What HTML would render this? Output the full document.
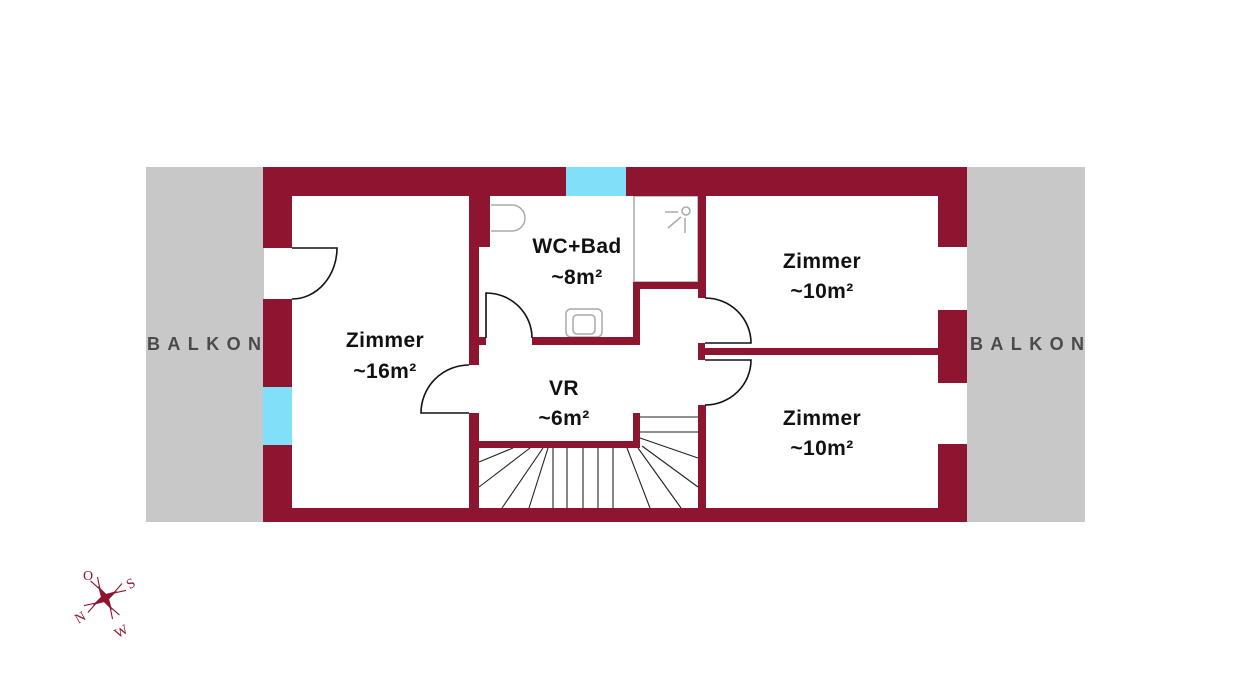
<!DOCTYPE html>
<html><head><meta charset="utf-8"><style>
html,body{margin:0;padding:0;background:#fff;}
svg{display:block;}
.lbl{font-family:"Liberation Sans",Arial,sans-serif;font-weight:bold;font-size:21px;fill:#111;text-anchor:middle;letter-spacing:0.4px;}
.bal{font-family:"Liberation Sans",Arial,sans-serif;font-weight:bold;font-size:18px;fill:#4a4a4a;letter-spacing:7.4px;}
.cmp{font-family:"Liberation Serif",serif;font-size:14px;fill:#8e1530;text-anchor:middle;}
</style></head><body>
<svg width="1236" height="700" viewBox="0 0 1236 700" xmlns="http://www.w3.org/2000/svg">
<rect width="1236" height="700" fill="#fff"/>
<!-- balconies -->
<rect x="146" y="167" width="118" height="355" fill="#c8c8c8"/>
<rect x="967" y="167" width="118" height="355" fill="#c8c8c8"/>
<!-- floor -->
<rect x="292" y="196" width="646" height="312" fill="#fff"/>
<!-- shower box -->
<rect x="634" y="196" width="64" height="86" fill="none" stroke="#aaa" stroke-width="1.5"/>
<g fill="none" stroke="#aaa" stroke-width="1.5">
<circle cx="686" cy="211" r="4"/>
<line x1="665" y1="212" x2="678" y2="212"/>
<line x1="668" y1="228" x2="681" y2="217"/>
<line x1="685" y1="218" x2="685" y2="233"/>
<path d="M491,205 L512,205 A13,13 0 0 1 512,231 L491,231"/>
<rect x="566" y="309" width="36" height="28" rx="5"/>
<rect x="573" y="315" width="22" height="19" rx="4"/>
</g>
<!-- walls -->
<g fill="#8e1530">
<rect x="263" y="167" width="303" height="29"/>
<rect x="626" y="167" width="341" height="29"/>
<rect x="263" y="508" width="704" height="14"/>
<rect x="263" y="167" width="29" height="81"/>
<rect x="263" y="299" width="29" height="88"/>
<rect x="263" y="445" width="29" height="77"/>
<rect x="938" y="167" width="29" height="80"/>
<rect x="938" y="310" width="29" height="73"/>
<rect x="938" y="444" width="29" height="78"/>
<rect x="469" y="196" width="21" height="51"/>
<rect x="469" y="196" width="10" height="169"/>
<rect x="469" y="413" width="10" height="95"/>
<rect x="478" y="337" width="8" height="8"/>
<rect x="532" y="337" width="108" height="8"/>
<rect x="633" y="282" width="7" height="63"/>
<rect x="633" y="282" width="73" height="7"/>
<rect x="698" y="196" width="8" height="102"/>
<rect x="698" y="343" width="7" height="17"/>
<rect x="705" y="348" width="233" height="7"/>
<rect x="698" y="405" width="8" height="103"/>
<rect x="478" y="441" width="162" height="7"/>
<rect x="633" y="413" width="7" height="35"/>
</g>
<!-- windows -->
<rect x="566" y="167" width="60" height="29" fill="#80e0fa"/>
<rect x="263" y="387" width="29" height="58" fill="#80e0fa"/>
<!-- doors -->
<g fill="none" stroke="#111" stroke-width="1.6">
<path d="M292,248 L337,248 A45,51 0 0 1 292,299"/>
<path d="M469,413 L421,413 A48,48 0 0 1 469,365"/>
<path d="M486,338 L486,293 A46,45 0 0 1 532,338"/>
<path d="M705,298 A46,45 0 0 1 751,343 L705,343"/>
<path d="M705,360 L751,360 A46,45 0 0 1 705,405"/>
</g>
<!-- stairs -->
<g stroke="#222" stroke-width="1.1">
<line x1="640" y1="417" x2="698" y2="417"/>
<line x1="640" y1="432" x2="698" y2="432"/>
<line x1="640" y1="438" x2="698" y2="458"/>
<line x1="642" y1="446" x2="698" y2="487"/>
<line x1="638" y1="448" x2="681" y2="508"/>
<line x1="627" y1="448" x2="650" y2="508"/>
<line x1="613" y1="448" x2="613" y2="508"/>
<line x1="598" y1="448" x2="598" y2="508"/>
<line x1="583" y1="448" x2="583" y2="508"/>
<line x1="567" y1="448" x2="567" y2="508"/>
<line x1="553" y1="448" x2="553" y2="508"/>
<line x1="548" y1="448" x2="529" y2="508"/>
<line x1="543" y1="448" x2="502" y2="508"/>
<line x1="530" y1="448" x2="479" y2="487"/>
<line x1="513" y1="448" x2="479" y2="462"/>
</g>
<!-- labels -->
<text class="lbl" x="385" y="347">Zimmer</text>
<text class="lbl" x="385" y="378">~16m²</text>
<text class="lbl" x="577" y="253">WC+Bad</text>
<text class="lbl" x="577" y="284">~8m²</text>
<text class="lbl" x="564" y="395">VR</text>
<text class="lbl" x="564" y="425">~6m²</text>
<text class="lbl" x="822" y="268">Zimmer</text>
<text class="lbl" x="822" y="298">~10m²</text>
<text class="lbl" x="822" y="425">Zimmer</text>
<text class="lbl" x="822" y="455">~10m²</text>
<text class="bal" x="147" y="350">BALKON</text>
<text class="bal" x="970" y="350">BALKON</text>
<!-- compass -->
<g transform="translate(105,598) rotate(-30)">
<path d="M0,-14 L3,-3 L14,0 L3,3 L0,14 L-3,3 L-14,0 L-3,-3 Z" fill="#8e1530"/>
<g fill="none" stroke="#8e1530" stroke-width="1.1">
<path d="M-4,-22 L0,-10 L4,-22"/>
<path d="M-4,22 L0,10 L4,22"/>
<path d="M22,-4 L10,0 L22,4"/>
<path d="M-22,-4 L-10,0 L-22,4"/>
</g>
</g>
<text class="cmp" x="88" y="580">O</text>
<text class="cmp" x="131" y="588" transform="rotate(-30 131 584)">S</text>
<text class="cmp" x="80" y="622" transform="rotate(-30 80 617)">N</text>
<text class="cmp" x="121" y="636" transform="rotate(-30 121 631)">W</text>
</svg>
</body></html>
